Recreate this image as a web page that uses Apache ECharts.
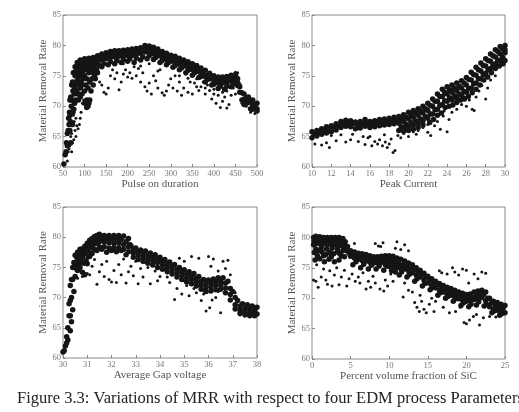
<!DOCTYPE html>
<html><head><meta charset="utf-8">
<script src="https://cdn.jsdelivr.net/npm/echarts@6/dist/echarts.min.js"></script>
<style>html,body{margin:0;padding:0;background:#fff}#c{width:519px;height:412px}</style>
</head><body><div id="c"></div>
<script>
// ---- Data ----
const yTitle = "Material Removal Rate";
const xTitles = ["Pulse on duration", "Peak Current", "Average Gap voltage", "Percent volume fraction of SiC"];
const caption = "Figure 3.3: Variations of MRR with respect to four EDM process Parameters";

// Panel 1: Pulse on duration
const p1Band = [[52,60.5],[55,62],[58,64],[60,65.5],[63,68],[66,71],[70,73.5],[74,75.5],[78,76.5],[83,77.2],[90,77.6],[100,77.8],[110,77.9],[120,78.0],[130,78.3],[140,78.6],[150,78.8],[160,79.0],[170,79.1],[180,79.1],[190,79.2],[200,79.3],[210,79.4],[220,79.5],[230,79.6],[240,80.0],[250,79.9],[260,79.7],[270,79.4],[280,79.0],[290,78.7],[300,78.4],[310,78.2],[320,77.9],[330,77.6],[340,77.3],[350,77.0],[360,76.7],[370,76.3],[380,75.9],[390,75.4],[400,75.0],[410,74.8],[420,74.8],[430,74.9],[440,75.1],[450,75.2],[455,74.5],[460,73.2],[470,72.0],[480,71.5],[490,71.0],[500,70.5],
[57,62.5],[62,66],[65,69],[68,71.5],[72,74],[76,75.6],[80,76.4],[86,77],[95,77.2],[105,77.3],[115,77.4],[125,77.7],[135,78],[145,78.2],[155,78.4],[165,78.6],[175,78.6],[185,78.7],[195,78.8],[205,78.9],[215,79],[225,79.1],[235,79.4],[245,79.5],[255,79.3],[265,79],[275,78.7],[285,78.4],[295,78],[305,77.8],[315,77.5],[325,77.3],[335,77],[345,76.6],[355,76.3],[365,76],[375,75.6],[385,75.1],[395,74.7],[405,74.4],[415,74.3],[425,74.3],[435,74.5],[445,74.7],[452,74.7],[458,73.5],[465,72.2],[475,71.3],[485,70.8],[495,70.3],
[60,63.5],[63,66],[66,68.5],[70,71],[74,73.5],[78,75],[83,76],[90,76.5],[100,76.7],[110,76.8],[120,77],[130,77.3],[140,77.6],[150,77.8],[160,78],[170,78.1],[180,78.2],[190,78.2],[200,78.3],[210,78.4],[220,78.5],[230,78.7],[240,78.9],[250,78.9],[260,78.6],[270,78.3],[280,78],[290,77.7],[300,77.4],[310,77.1],[320,76.9],[330,76.6],[340,76.3],[350,76],[360,75.7],[370,75.3],[380,74.9],[390,74.5],[400,74.1],[410,73.8],[420,73.8],[430,73.9],[440,74.1],[450,74.2],[460,72.3],[470,71.1],[480,70.6],[490,70.1],[500,69.6],
[135,76.7],[145,77],[160,77.3],[175,77.5],[190,77.6],[205,77.8],[220,77.9],[235,78.1],[250,78.3],[265,78],[280,77.5],[295,77.2],[310,76.7],[325,76.3],[340,75.9],[355,75.5],[370,74.9],[385,74.4],[400,73.6],[415,73.3],[430,73.3],[445,73.6],[455,73.9],[465,71],[475,70.5],[490,69.5],
[66,66],[70,69],[72,71],[76,72],[80,73.5],[85,74.5],[90,75],[95,75.5],[100,75],[105,74.5],[110,75.5],[115,76],[120,75.5],[125,76],[68,64],[72,67],[75,69.5],[80,71],[85,72],[90,73],[95,73.5],[100,72.5],[105,71],[108,70],[112,71],[115,72.5],[120,73.5],[125,74.5],[130,75.5],[100,70.5],[105,69.8],[110,70.5],
[64,67],[67,67.5],[69,70],[73,72.5],[77,73],[79,74],[82,75],[87,75.5],[88,73.5],[92,74],[93,76],[97,74.5],[98,76],[102,76],[103,73.5],[107,76],[108,73],[112,74],[113,76.5],[117,74.5],[118,77],[122,76.5],[127,77],[123,75],[128,76],[82,72.5],[86,71],[90,71.5],[94,72],[73,69],[77,70.5],[70,67],[83,73.8],
[140,76.5],[155,76.8],[170,77],[185,77.2],[200,77.4],[215,77.2],[230,77.6],[245,77.8],[260,77.7],[275,77.2],[290,76.8],[305,76.4],[320,76],[335,75.5],[350,75.1],[365,74.7],[380,74],[395,73.5],[410,72.9],[425,72.8],[440,73.2],[455,73.4],[470,70.3],[485,69.6],[500,69.2]];
const p1Scatter = [[60,61],[62,62.5],[64,63],[66,63.5],[68,65],[70,65.5],[72,64],[75,64.5],[78,66],[80,65],[82,66.8],[85,66.3],[88,67],[90,68],[76,67.5],[74,68.5],[70,62.5],[80,68],[92,69],[95,70.5],[98,71],[135,74],[140,73.5],[145,72.3],[150,72],[155,73],[160,75],[165,76],[170,74.5],[175,75.5],[180,72.7],[185,74],[190,75.3],[195,76],[200,74.8],[205,75.5],[210,74.6],[215,76.5],[220,75],[225,76.2],[230,74],[235,75.5],[240,73.2],[245,72.5],[250,73.8],[255,72],[260,75],[265,74.2],[270,73],[275,76],[280,72.2],[285,71.8],[290,72.5],[295,73.5],[300,74.5],[305,73],[310,75],[315,72.5],[320,74],[325,71.8],[330,73],[335,75.3],[340,72.3],[345,74],[350,72],[355,73.8],[360,74.5],[365,72.6],[370,73.2],[375,74],[380,72],[385,73.5],[390,72.6],[395,71.2],[400,72],[405,70.5],[410,71.8],[415,69.8],[420,70.8],[425,71.5],[430,69.7],[435,70.3],[440,71.8],[445,73],[450,72],[455,75.5],[450,75.6],[465,70.5],[475,70],[485,69],[495,68.8],[170,78],[190,77],[210,78.2],[230,76.6],[250,77],[270,75.8],[320,75],[340,74.6],[360,73.2],[380,73],[400,72.8],[420,72.3],[430,72.5]];

// Panel 2: Peak Current
const p2Band = [[10,65.8],[10.5,66],[11,66.3],[11.5,66.6],[12,66.8],[12.5,67.1],[13,67.5],[13.5,67.7],[14,67.6],[14.5,67.4],[15,67.5],[15.5,67.8],[16,67.5],[16.5,67.6],[17,67.8],[17.5,67.9],[18,68.0],[18.5,68.2],[19,68.3],[19.5,68.6],[20,69.0],[20.5,69.3],[21,69.6],[21.5,70.0],[22,70.5],[22.5,71.2],[23,72.0],[23.5,72.8],[24,73.2],[24.5,73.5],[25,73.8],[25.5,74.2],[26,74.7],[26.5,75.6],[27,76.4],[27.5,77.1],[28,77.8],[28.5,78.6],[29,79.3],[29.5,79.8],[30,80.0],
[10.25,65.4],[10.75,65.7],[11.25,66],[11.75,66.2],[12.25,66.5],[12.75,66.8],[13.25,67.1],[13.75,67.2],[14.25,67.1],[14.75,66.9],[15.25,67.1],[15.75,67.2],[16.25,67.1],[16.75,67.2],[17.25,67.4],[17.75,67.5],[18.25,67.6],[18.75,67.7],[19.25,67.9],[19.75,68.2],[20.25,68.6],[20.75,68.9],[21.25,69.2],[21.75,69.6],[22.25,70.1],[22.75,70.8],[23.25,71.6],[23.75,72.3],[24.25,72.7],[24.75,73],[25.25,73.3],[25.75,73.8],[26.25,74.4],[26.75,75.2],[27.25,76],[27.75,76.7],[28.25,77.5],[28.75,78.3],[29.25,79],[29.75,79.4],
[10,64.8],[10.5,65.1],[11,65.4],[11.5,65.6],[12,65.8],[12.5,66.1],[13,66.5],[13.5,66.7],[14,66.6],[14.5,66.3],[15,66.4],[15.5,66.7],[16,66.5],[16.5,66.6],[17,66.8],[17.5,66.9],[18,67],[18.5,67.1],[19,67.2],[19.5,67.5],[20,67.9],[20.5,68.2],[21,68.5],[21.5,68.9],[22,69.3],[22.5,70],[23,70.8],[23.5,71.6],[24,72],[24.5,72.3],[25,72.6],[25.5,73],[26,73.5],[26.5,74.3],[27,75.1],[27.5,75.8],[28,76.6],[28.5,77.4],[29,78.1],[29.5,78.6],[30,78.8],
[19.25,66.6],[19.75,67],[20.25,67.3],[20.75,67.6],[21.25,67.9],[21.75,68.3],[22.25,68.7],[22.75,69.4],[23.25,70.1],[23.75,70.9],[24.25,71.4],[24.75,71.7],[25.25,72],[25.75,72.4],[26.25,72.9],[26.75,73.7],[27.25,74.5],[27.75,75.2],[28.25,76],[28.75,76.8],[29.25,77.6],[29.75,78],[30,79.3],
[19,66],[19.5,66.3],[20,66.6],[20.5,66.9],[21,67.2],[21.5,67.6],[22,68],[22.5,68.7],[23,69.5],[23.5,70.3],[24,70.8],[24.5,71],[25,71.3],[25.5,71.8],[26,72.3],[26.5,73],[27,73.8],[27.5,74.5],[28,75.4],[28.5,76.2],[29,77],[29.5,77.4],[30,77.5],
[22.2,67.3],[22.6,67.8],[23,68.5],[23.4,68.9],[23.8,69.8],[24.2,70],[24.6,70.2],[25,70.6],[25.4,71],[25.8,71.2],[26.2,71.6],[26.6,72.2],[27,72.8],[27.4,73.5],[27.8,74.3],[28.2,74.8],[28.6,75.5],[29,76.2],[29.4,76.6],[29.8,77],[19.5,65.9],[20,66],[20.5,66.2],[21,66.5],[21.5,66.9]];
const p2Scatter = [[10.3,63.8],[11,63.6],[11.5,64],[11.8,63.2],[12.5,64.3],[13,65.3],[13.5,64.1],[14,64.5],[14.2,65.4],[14.8,64.2],[15.3,65],[15.5,63.7],[15.8,64.8],[16.2,63.5],[16.5,64.2],[16.8,63.8],[17,64.5],[17.3,63.5],[17.6,64.1],[17.8,63.2],[18,63.8],[18.2,64.6],[18.4,62.4],[18.6,62.7],[18.9,65.2],[19.2,64.8],[19.5,65.5],[20,65],[20.5,65.8],[21,66],[21.5,66.5],[22,65.7],[22.3,65.2],[22.7,66.8],[23,67.5],[23.3,66.2],[23.6,68.4],[24,65.8],[24.2,67.8],[24.5,69],[25,69.5],[25.5,70.3],[26,70],[26.3,71],[26.6,69.5],[26.8,69.3],[27,71.5],[27.3,72.5],[27.6,73.4],[28,71.2],[28.2,73],[28.5,74.3],[29,75],[29.3,76.5],[29.7,76.8],[12,65.2],[16,65],[17.5,65.3],[20.8,65.4],[22,67],[23.7,69.2],[24.8,70.5],[25.8,71.5]];

// Panel 3: Average Gap voltage
const p3Band = [[30,61],[30.1,62],[30.2,65],[30.25,69],[30.3,72],[30.4,75],[30.5,77],[30.6,77.5],[30.7,78],[30.8,78.1],[30.9,78.5],[31,79],[31.1,79.5],[31.2,79.8],[31.3,80.1],[31.4,80.3],[31.5,80.5],[31.7,80.3],[31.9,80.3],[32.1,80.3],[32.3,80.3],[32.5,80.2],[32.7,79.8],[32.8,78.6],[33,78.2],[33.2,77.9],[33.4,77.7],[33.6,77.4],[33.8,77.1],[34,76.7],[34.2,76.3],[34.4,75.9],[34.6,75.5],[34.8,75],[35,74.6],[35.2,74.3],[35.4,74],[35.6,73.5],[35.8,73],[36,72.9],[36.2,73.1],[36.4,73.3],[36.6,73.3],[36.8,72.7],[37,71],[37.2,69.5],[37.4,69],[37.6,68.8],[37.8,68.6],[38,68.4],
[30.15,63.5],[30.25,67],[30.3,69.5],[30.35,73],[30.45,75.8],[30.55,76.8],[30.65,77.1],[30.75,77.4],[30.85,77.6],[30.95,78.1],[31.05,78.5],[31.15,79],[31.25,79.3],[31.35,79.6],[31.45,79.9],[31.6,79.8],[31.8,79.8],[32,79.7],[32.2,79.7],[32.4,79.6],[32.6,79.3],[32.75,78.8],[32.9,78],[33.1,77.6],[33.3,77.3],[33.5,77],[33.7,76.7],[33.9,76.4],[34.1,76],[34.3,75.6],[34.5,75.2],[34.7,74.7],[34.9,74.3],[35.1,73.9],[35.3,73.6],[35.5,73.2],[35.7,72.7],[35.9,72.3],[36.1,72.4],[36.3,72.6],[36.5,72.7],[36.7,72.4],[36.9,71.5],[37.1,70],[37.3,68.6],[37.5,68.2],[37.7,68.1],[37.9,67.9],
[30.2,63],[30.3,67],[30.35,70],[30.4,73],[30.5,75.5],[30.6,76.3],[30.7,76.7],[30.8,76.8],[30.9,77.2],[31,77.7],[31.1,78.2],[31.2,78.6],[31.3,78.9],[31.4,79.1],[31.5,79.3],[31.7,79.2],[31.9,79.1],[32.1,79],[32.3,79],[32.5,78.8],[32.7,78.4],[32.9,77.4],[33.1,77],[33.3,76.7],[33.5,76.4],[33.7,76.1],[33.9,75.8],[34.1,75.4],[34.3,75],[34.5,74.6],[34.7,74.1],[34.9,73.7],[35.1,73.3],[35.3,73],[35.5,72.6],[35.7,72.1],[35.9,71.7],[36.1,71.8],[36.3,72],[36.5,72.1],[36.7,71.6],[36.9,70.5],[37.1,68.8],[37.3,68],[37.5,67.7],[37.7,67.5],[37.9,67.4],[38,67.3],
[30.55,74.8],[30.65,75.6],[30.75,76],[30.85,75.7],[30.95,76.2],[31.05,76.8],[31.15,77.4],[31.3,78],[31.5,78.4],[31.7,78.4],[31.9,78.2],[32.1,78.3],[32.3,78.2],[32.5,78],[32.7,77.6],[32.9,76.7],[33.1,76.3],[33.3,76],[33.5,75.7],[33.7,75.4],[33.9,75],[34.1,74.7],[34.3,74.3],[34.5,73.9],[34.7,73.4],[34.9,73],[35.1,72.6],[35.3,72.3],[35.5,71.9],[35.7,71.4],[35.9,71],[36.1,71.1],[36.3,71.3],[36.5,71.4],[36.7,70.8],[36.9,69.6],[37.1,68.1],[37.3,67.4],[37.5,67.2],[37.7,67],[37.9,67],
[30.3,64.5],[30.35,66],[30.4,68],[30.45,71],[30.5,73.5],[30.6,74.5],[30.7,75],[30.8,74.2],[30.9,73.8],[31,75.6],[31.1,76.8],[31.2,77.3],[31.4,77.8],[31.6,78],[31.8,77.5],[32,77.8],[32.2,77.6],[32.4,77.8],[32.6,77.1],[30.15,62.5],[30.05,61.2]];
const p3Scatter = [[30.6,73.2],[30.8,73.5],[31,74],[31.1,73.8],[31.2,75.2],[31.4,72.2],[31.5,74.3],[31.6,75.5],[31.7,73.5],[31.8,76],[31.9,73],[32,72.6],[32.1,74.5],[32.2,72.5],[32.3,75.5],[32.4,73.8],[32.5,76.4],[32.6,72.4],[32.8,75.2],[32.9,73.6],[33,76],[33.1,72.3],[33.2,74.8],[33.3,73.4],[33.5,75],[33.6,72.3],[33.8,74.4],[33.9,72.8],[34,73.5],[34.2,74.6],[34.4,72.5],[34.6,69.7],[34.7,71.5],[34.8,76.5],[34.9,70.6],[35,76],[35.1,72],[35.2,70.3],[35.3,76.8],[35.4,71.5],[35.5,70.8],[35.6,76.5],[35.7,69.5],[35.8,71.2],[35.9,67.8],[36,76.8],[36.05,68.3],[36.1,75.2],[36.15,69.6],[36.2,76.4],[36.3,70],[36.4,74.4],[36.5,67.5],[36.6,76],[36.7,74.8],[36.8,76.2],[36.9,73.8],[37.1,70.8],[37.3,67.1],[37.5,66.9],[37.7,67],[37.9,68.5],[34.3,73.4],[33.4,75.8],[32.7,74.3],[31.3,76.3],[35,72.8],[35.8,70.6],[36.4,71]];

// Panel 4: Percent volume fraction of SiC
const p4Band = [[0.2,80],[0.5,80.2],[1,80.1],[1.5,80],[2,80],[2.5,80],[3,80],[3.5,80],[4,79.8],[4.3,79.3],[4.6,78.5],[5,77.8],[5.5,77.6],[6,77.4],[6.5,77.3],[7,77.2],[7.5,77],[8,76.8],[8.5,76.8],[9,76.9],[9.5,77],[10,77],[10.5,76.9],[11,76.6],[11.5,76.4],[12,76.1],[12.5,75.8],[13,75.5],[13.5,75],[14,74.6],[14.5,74.1],[15,73.6],[15.5,73.2],[16,72.8],[16.5,72.4],[17,72.1],[17.5,71.8],[18,71.6],[18.5,71.3],[19,71],[19.5,70.8],[20,70.6],[20.5,70.7],[21,71],[21.5,71.2],[22,71.3],[22.5,71],[23,70],[23.5,69.5],[24,69.3],[24.5,69],[25,68.8],
[0.25,79.4],[0.75,79.6],[1.25,79.6],[1.75,79.5],[2.25,79.4],[2.75,79.5],[3.25,79.4],[3.75,79.3],[4.15,79],[4.45,78.3],[4.8,77.4],[5.25,77.1],[5.75,77],[6.25,76.8],[6.75,76.7],[7.25,76.5],[7.75,76.4],[8.25,76.3],[8.75,76.3],[9.25,76.4],[9.75,76.5],[10.25,76.5],[10.75,76.1],[11.25,75.6],[11.75,75.5],[12.25,75.3],[12.75,75],[13.25,74.7],[13.75,74.3],[14.25,73.9],[14.75,73.5],[15.25,73],[15.75,72.6],[16.25,72.2],[16.75,71.8],[17.25,71.5],[17.75,71.2],[18.25,71],[18.75,70.7],[19.25,70.4],[19.75,70.2],[20.25,70],[20.75,70.1],[21.25,70.4],[21.75,70.6],[22.25,70.6],[22.75,70],[23.25,69.2],[23.75,68.8],[24.25,68.6],[24.75,68.4],
[0.2,78.8],[0.5,79],[1,79],[1.5,78.9],[2,78.8],[2.5,78.9],[3,78.8],[3.5,78.7],[4,78.5],[4.5,77.8],[5,76.9],[5.5,76.6],[6,76.4],[6.5,76.2],[7,76.1],[7.5,75.9],[8,75.8],[8.5,75.8],[9,75.9],[9.5,76],[10,76],[10.5,76],[11,75],[11.5,74.9],[12,74.8],[12.5,74.5],[13,74.2],[13.5,73.8],[14,73.5],[14.5,73],[15,72.5],[15.5,72.1],[16,71.7],[16.5,71.3],[17,71],[17.5,70.7],[18,70.5],[18.5,70.2],[19,69.9],[19.5,69.7],[20,69.5],[20.5,69.6],[21,69.8],[21.5,70],[22,70.1],[22.5,69.6],[23,68.6],[23.5,68.2],[24,68],[24.5,67.8],[25,67.6],
[0.5,78.1],[1.2,78.3],[1.9,78.1],[2.6,78.2],[3.3,78.1],[4,77.8],[0.7,77],[1.5,77],[2.5,76.8],[3.6,77.3],[5.7,76],[6.7,75.6],[7.7,75.4],[8.7,75.3],[9.7,75.3],[10.6,75.2],[11.6,74.3],[12.6,73.9],[13.6,73.2],[14.6,72.4],[15.6,71.7],[16.6,70.9],[17.6,70.3],[18.6,69.9],[19.6,69.2],[20.6,69],[21.6,69.4],[22.6,69],[23.6,67.9],[24.6,67.5],[10,75.2],[10.5,75.6],[11,76],[9.5,75.5],[10.8,75],
[0.3,77.5],[0.8,77.8],[1.3,77.6],[1.8,77.2],[2.3,77.5],[2.8,77.3],[3.3,77.6],[3.8,77],[0.4,76.3],[1,76.5],[1.6,76],[2.2,76.4],[2.9,76],[3.5,76.3],[4.2,76.8],[5.3,75.5],[6.3,75],[7.3,74.8],[8.3,74.8],[9.3,74.6],[10.3,74.5],[10.8,74.3],[11.3,73.8],[12.3,73.5],[13.3,72.8],[14.3,72],[15.3,71.4],[16.3,70.5],[17.3,70],[18.3,69.5],[19.3,68.8],[20.3,68.6],[21.3,68.9],[22.3,68.7],[23.3,67.6],[24.3,67.2]];
const p4Scatter = [[0.2,73],[0.5,72.8],[0.8,71.8],[0.6,75.5],[1.2,73.5],[1.5,74.8],[1.8,73],[2,72.3],[2.3,74.5],[2.6,72],[2.9,73.8],[3.2,75],[3.5,72.2],[3.8,73.5],[4.2,74.6],[4.5,72],[4.8,73.2],[5.2,74],[5.5,79],[5.6,72.8],[6,73.5],[6.2,72.5],[6.6,74.2],[7,71.5],[7.3,72.8],[7.6,71.8],[7.9,73.6],[8.2,72.5],[8.2,79],[8.6,78.6],[8.9,78.5],[9.2,79.1],[8.8,71.5],[9.3,71.2],[9.5,73],[9.8,72],[10.2,74],[11,79.3],[11.5,78],[12,78.8],[12.5,77.8],[10.8,78.2],[12,72.5],[12.5,71.3],[13,71],[13.3,69.3],[13.6,68.5],[13.9,67.8],[14.2,69.5],[14.5,68.2],[14.8,67.6],[15.2,69],[15.5,70],[15.8,67.8],[16.5,74.5],[16.8,74.2],[17.5,74],[18.2,75],[18.5,74.3],[19,73.8],[19.5,74.8],[20,74.6],[20.3,72.5],[21,74],[21.5,73.2],[22,74.3],[22.5,74.1],[17,68.5],[17.8,67.6],[18.6,67.8],[19.2,68.5],[19.7,66],[20,65.8],[20.4,66.4],[20.9,67],[21.3,67.3],[21.7,65.6],[22.2,66.8],[23,67],[23.8,66.9],[24.5,67.2],[16,69.5],[14,70.5],[11.8,70.2],[10.5,72.8]];

const xRanges = [[50,500,50],[10,30,2],[30,38,1],[0,25,5]];
const yRange = [60,85,5];

// ---- Chart ----
const grids = [
  {left:63, top:15, width:194, height:152},
  {left:312, top:15, width:193, height:152},
  {left:63, top:207, width:194, height:151},
  {left:312, top:207, width:193, height:152}
];
const serif = "'Liberation Serif','DejaVu Serif',serif";
const bands = [p1Band,p2Band,p3Band,p4Band];
const scatters = [p1Scatter,p2Scatter,p3Scatter,p4Scatter];

const option = {
  animation:false,
  backgroundColor:'#fff',
  grid: grids.map(g=>Object.assign({show:true, borderColor:'#8a8a8a', borderWidth:1, containLabel:false}, g)),
  xAxis: xRanges.map((r,i)=>({
    type:'value', gridIndex:i, min:r[0], max:r[1], interval:r[2],
    name:xTitles[i], nameLocation:'middle', nameGap:12,
    nameTextStyle:{fontFamily:serif, fontSize:11, color:'#555'},
    axisLine:{show:false}, splitLine:{show:false},
    axisTick:{show:true, inside:true, length:3, lineStyle:{color:'#8a8a8a'}},
    axisLabel:{fontFamily:serif, fontSize:8.5, color:'#777', margin:2}
  })),
  yAxis: xRanges.map((r,i)=>({
    type:'value', gridIndex:i, min:yRange[0], max:yRange[1], interval:yRange[2],
    name:yTitle, nameLocation:'middle', nameGap:14, nameRotate:90,
    nameTextStyle:{fontFamily:serif, fontSize:11, color:'#555'},
    axisLine:{show:false}, splitLine:{show:false},
    axisTick:{show:true, inside:true, length:3, lineStyle:{color:'#8a8a8a'}},
    axisLabel:{fontFamily:serif, fontSize:8.5, color:'#777', margin:2}
  })),
  series: [].concat(
    bands.map((d,i)=>({type:'scatter', xAxisIndex:i, yAxisIndex:i, data:d, symbolSize:5.5,
      itemStyle:{color:'#151515', opacity:1}, silent:true})),
    scatters.map((d,i)=>({type:'scatter', xAxisIndex:i, yAxisIndex:i, data:d, symbolSize:3,
      itemStyle:{color:'#151515', opacity:1}, silent:true}))
  ),
  graphic:[{type:'text', left:17, top:390, style:{text:caption, font:"16.5px 'Liberation Serif', serif", fill:'#222'}}]
};
const chart = echarts.init(document.getElementById('c'), null, {renderer:'canvas'});
chart.setOption(option);
</script></body></html>
